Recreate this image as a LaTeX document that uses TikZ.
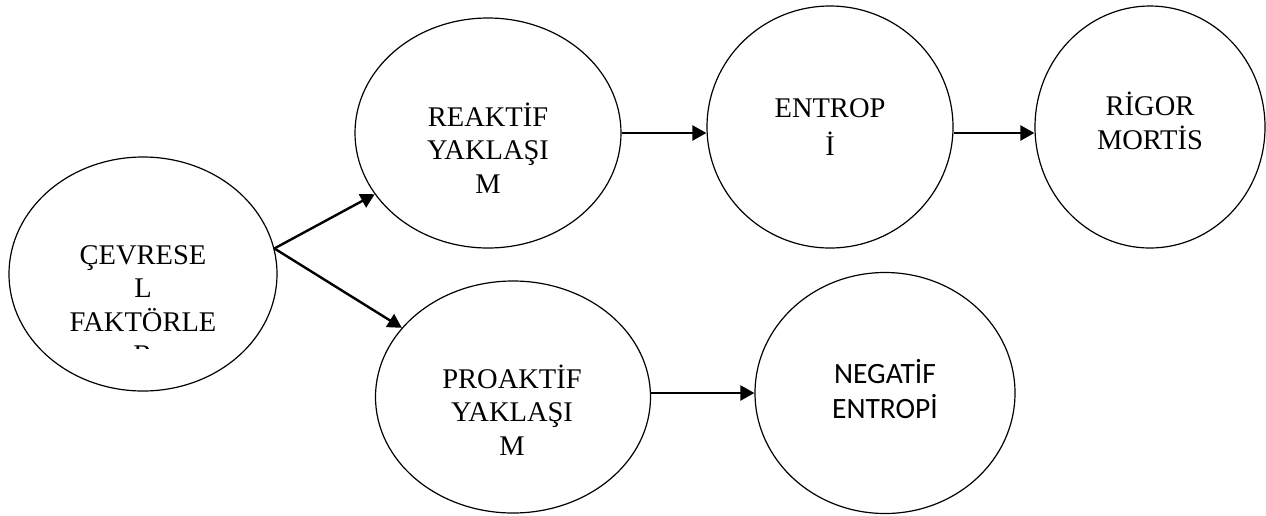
\documentclass[tikz,border=0pt]{standalone}
\usepackage{fontspec}
\setmainfont{Liberation Serif}
\newfontfamily\calibri{Carlito}
\usetikzlibrary{shapes.geometric,arrows.meta}

\begin{document}
\begin{tikzpicture}[x=1pt, y=-1pt,
  bubble/.style={draw, ellipse, line width=1.2pt, inner sep=0pt},
  arr/.style={line width=2.4pt, -{Triangle[length=14pt,width=15pt]}},
  lbl/.style={align=center, inner sep=0pt, font=\fontsize{28.5}{33.5}\selectfont}]
\useasboundingbox (0,0) rectangle (1266,515);
\fill[white] (0,0) rectangle (1266,515);
\node[bubble, minimum width=268pt, minimum height=234pt] (cev) at (143,274) {};
\node[bubble, minimum width=266pt, minimum height=230pt] (re) at (488,133) {};
\node[bubble, minimum width=246pt, minimum height=242pt] (en) at (830,127) {};
\node[bubble, minimum width=230pt, minimum height=242pt] (rm) at (1150,127) {};
\node[bubble, minimum width=275pt, minimum height=232pt] (pro) at (513,397) {};
\node[bubble, minimum width=260pt, minimum height=241pt] (neg) at (885,393) {};
% texts
\begin{scope}
\clip (0,0) rectangle (300,348);
\node[lbl] (cevtxt) at (143,305) {ÇEVRESE\\L\\FAKTÖRLE\\R};
\end{scope}
\node[lbl] (retxt) at (488,148) {REAKTİF\\YAKLAŞI\\M};
\node[lbl] (entxt) at (830,127) {ENTROP\\[5pt]İ};
\node[lbl] (rmtxt) at (1150,121) {RİGOR\\MORTİS};
\node[lbl] (protxt) at (512,410) {PROAKTİF\\YAKLAŞI\\M};
\node[lbl, font=\calibri\fontsize{29.5}{35}\selectfont] (negtxt) at (885,389) {NEGATİF\\ENTROPİ};
% arrows
\draw[arr] (cev.11) -- (re);
\draw[arr] (cev.11) -- (pro);
\draw[arr] (re.east) -- (re.east -| en.west);
\draw[arr] (re.east -| en.east) -- (re.east -| rm.west);
\draw[arr] (neg.west -| pro.east) -- (neg.west);
\end{tikzpicture}
\end{document}
